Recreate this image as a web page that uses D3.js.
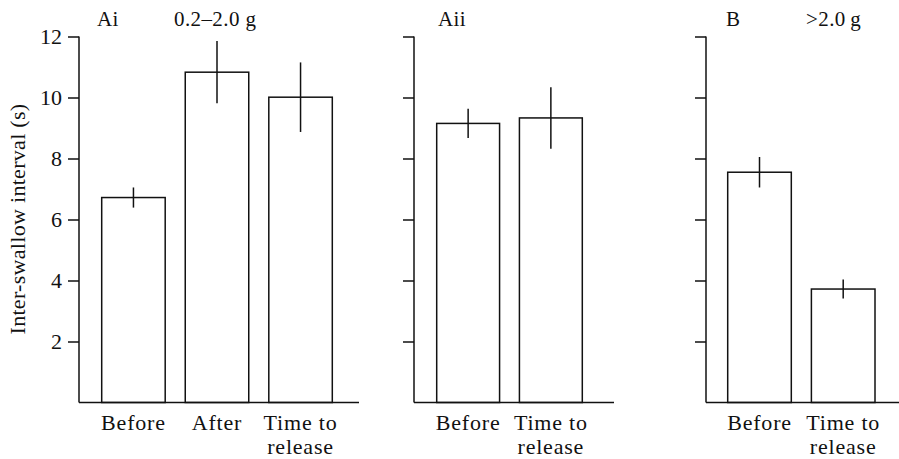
<!DOCTYPE html>
<html>
<head>
<meta charset="utf-8">
<script src="https://cdn.jsdelivr.net/npm/d3@7"></script>
<style>
  html, body { margin: 0; padding: 0; background: #fff; }
  svg { display: block; }
  text { font-family: "Liberation Serif", "Times New Roman", serif; fill: #111; }
</style>
</head>
<body>
<svg id="chart" width="899" height="459"></svg>
<script>
// Mean inter-swallow interval (s) with error bars, per panel
const aiCategories = ["Before", "After", "Time to release"];
const aiMeans = [6.72, 10.83, 10.01];
const aiErrors = [0.33, 1.02, 1.14];

const aiiCategories = ["Before", "Time to release"];
const aiiMeans = [9.15, 9.33];
const aiiErrors = [0.48, 1.01];

const bCategories = ["Before", "Time to release"];
const bMeans = [7.55, 3.72];
const bErrors = [0.5, 0.31];

const yTicks = [2, 4, 6, 8, 10, 12];
const panelTitles = ["Ai", "Aii", "B"];
const sizeLabels = ["0.2\u20132.0 g", ">2.0\u2009g"];
const yAxisTitle = "Inter-swallow interval (s)";

const svg = d3.select("#chart");
const FONT = 22;
const SERIF = "'Liberation Serif', 'Times New Roman', serif";
const INK = "#111";

const y = d3.scaleLinear().domain([0, 12]).range([402.5, 36.5]);

const panels = [
  { cats: aiCategories, means: aiMeans, errs: aiErrors, axisX: 79, axisEnd: 359,
    barRange: [101.7, 332.3], labels: true },
  { cats: aiiCategories, means: aiiMeans, errs: aiiErrors, axisX: 414, axisEnd: 614,
    barRange: [436.7, 582.3], labels: false },
  { cats: bCategories, means: bMeans, errs: bErrors, axisX: 706, axisEnd: 899,
    barRange: [727.7, 875], labels: false }
];

panels.forEach(p => {
  const g = svg.append("g");
  const x = d3.scaleBand().domain(p.cats).range(p.barRange)
    .paddingInner(0.24).paddingOuter(0);

  // bars
  g.selectAll("rect.bar").data(p.cats).join("rect")
    .attr("class", "bar")
    .attr("x", d => x(d))
    .attr("width", x.bandwidth())
    .attr("y", (d, i) => y(p.means[i]))
    .attr("height", (d, i) => y(0) - y(p.means[i]))
    .attr("fill", "#fff")
    .attr("stroke", INK)
    .attr("stroke-width", 1.5);

  // error bars
  g.selectAll("line.err").data(p.cats).join("line")
    .attr("class", "err")
    .attr("x1", d => x(d) + x.bandwidth() / 2)
    .attr("x2", d => x(d) + x.bandwidth() / 2)
    .attr("y1", (d, i) => y(p.means[i] + p.errs[i]))
    .attr("y2", (d, i) => y(p.means[i] - p.errs[i]))
    .attr("stroke", INK)
    .attr("stroke-width", 1.5);

  // y axis
  const yAxis = d3.axisLeft(y).tickValues(yTicks).tickSize(11).tickSizeOuter(0)
    .tickPadding(6)
    .tickFormat(p.labels ? d3.format("d") : () => "");
  const ya = g.append("g").attr("transform", `translate(${p.axisX},0)`).call(yAxis);
  ya.attr("font-family", SERIF);
  ya.select(".domain").attr("stroke", INK).attr("stroke-width", 1.5)
    .attr("d", `M0,${y(0)}V${y(12)}`);
  ya.selectAll(".tick line").attr("stroke", INK).attr("stroke-width", 1.5);
  ya.selectAll(".tick text").attr("font-size", FONT).attr("fill", INK);

  // x axis baseline
  g.append("line")
    .attr("x1", p.axisX).attr("x2", p.axisEnd)
    .attr("y1", y(0)).attr("y2", y(0))
    .attr("stroke", INK).attr("stroke-width", 1.5);

  // category labels (wrapped to two lines)
  const lab = g.selectAll("text.cat").data(p.cats).join("text")
    .attr("class", "cat")
    .attr("text-anchor", "middle")
    .attr("font-size", FONT)
    .style("letter-spacing", "0.8px")
    .attr("x", d => x(d) + x.bandwidth() / 2)
    .attr("y", 430);
  lab.each(function(d) {
    const t = d3.select(this);
    const parts = d === "Time to release" ? ["Time to", "release"] : [d];
    parts.forEach((s, k) => {
      t.append("tspan").attr("x", x(d) + x.bandwidth() / 2)
        .attr("dy", k === 0 ? 0 : 24).text(s);
    });
  });
});

// panel titles
const titles = [
  { t: panelTitles[0], x: 97 }, { t: sizeLabels[0], x: 174 },
  { t: panelTitles[1], x: 438 },
  { t: panelTitles[2], x: 726 }, { t: sizeLabels[1], x: 806 }
];
svg.selectAll("text.title").data(titles).join("text")
  .attr("class", "title")
  .attr("x", d => d.x).attr("y", 26)
  .attr("font-size", 21)
  .style("letter-spacing", "0.4px")
  .text(d => d.t);

// y-axis title
svg.append("text")
  .attr("transform", "translate(25,219) rotate(-90)")
  .attr("text-anchor", "middle")
  .attr("font-size", FONT)
  .style("letter-spacing", "0.3px")
  .text(yAxisTitle);
</script>
</body>
</html>
